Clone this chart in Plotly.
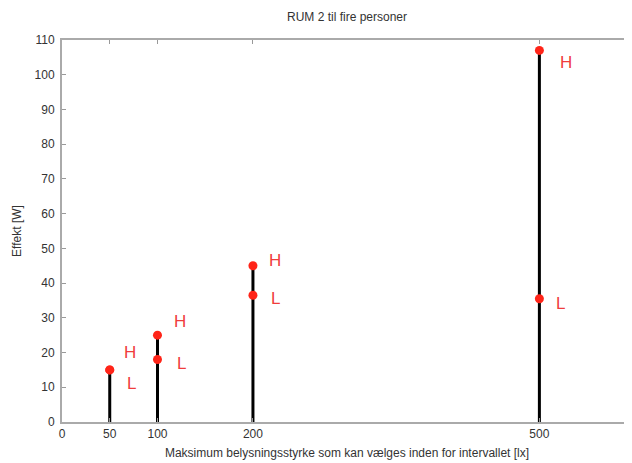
import plotly.graph_objects as go

# Data
lux_levels = [50, 100, 200, 500]
effect_high = [15, 25, 45, 107]
effect_low = [15, 18, 36.5, 35.5]
x_ticks = [0, 50, 100, 200, 500]
y_ticks = list(range(0, 111, 10))
title = "RUM 2 til fire personer"
x_title = "Maksimum belysningsstyrke som kan vælges inden for intervallet [lx]"
y_title = "Effekt [W]"

# label offsets (pixels) for H and L texts
h_shift = [(20, 17), (23, 14), (22, 5), (27, -12)]
l_shift = [(22, -14), (24, -4), (23, -3), (21, -5)]

fig = go.Figure()

# stems
sx, sy = [], []
for x, h in zip(lux_levels, effect_high):
    sx += [x, x, None]
    sy += [0, h, None]
fig.add_trace(go.Scatter(x=sx, y=sy, mode="lines",
                         line=dict(color="black", width=3), showlegend=False, hoverinfo="skip"))

# markers
fig.add_trace(go.Scatter(x=lux_levels + lux_levels, y=effect_high + effect_low, mode="markers",
                         marker=dict(color="#ff2418", size=9), showlegend=False))

# right-side ticks via overlay axis
fig.add_trace(go.Scatter(x=[None], y=[None], yaxis="y2", showlegend=False))

annotations = []
for i, x in enumerate(lux_levels):
    annotations.append(dict(x=x, y=effect_high[i], text="H", showarrow=False,
                            xshift=h_shift[i][0], yshift=h_shift[i][1],
                            font=dict(color="#f03c3c", size=17, family="Liberation Sans")))
    annotations.append(dict(x=x, y=effect_low[i], text="L", showarrow=False,
                            xshift=l_shift[i][0], yshift=l_shift[i][1],
                            font=dict(color="#f03c3c", size=17, family="Liberation Sans")))

# page body has an 8px margin: compensate so the plot lands where the reference has it
fig.update_layout(
    width=624, height=455,
    margin=dict(l=54, r=0, t=32, b=41, autoexpand=False),
    paper_bgcolor="white", plot_bgcolor="white",
    font=dict(family="Liberation Sans", size=12, color="#333333"),
    title=dict(text=title, x=0.5, xanchor="center", xref="paper", y=1 - 9 / 455, yanchor="middle",
               font=dict(size=12, color="#333333"), automargin=False),
    annotations=annotations,
    xaxis=dict(range=[0, 597], tickvals=x_ticks, ticktext=[str(t) for t in x_ticks],
               showline=True, linecolor="#aaaaaa", linewidth=2, mirror="ticks",
               ticks="inside", ticklen=4, tickcolor="#999999", showgrid=False, zeroline=False,
               automargin=False,
               title=dict(text=x_title, standoff=8, font=dict(size=12)), ticklabelstandoff=0),
    yaxis=dict(range=[0, 110], tickvals=y_ticks, showline=True, linecolor="#aaaaaa", linewidth=2,
               ticks="inside", ticklen=4, tickcolor="#999999", showgrid=False, zeroline=False,
               automargin=False, ticklabelstandoff=3,
               title=dict(text=y_title, standoff=10, font=dict(size=12))),
    yaxis2=dict(range=[0, 110], tickvals=y_ticks, overlaying="y", side="right", showline=False,
                ticks="inside", ticklen=4, tickcolor="#999999", showticklabels=False,
                showgrid=False, zeroline=False, automargin=False),
)

fig.write_html("out.html")
